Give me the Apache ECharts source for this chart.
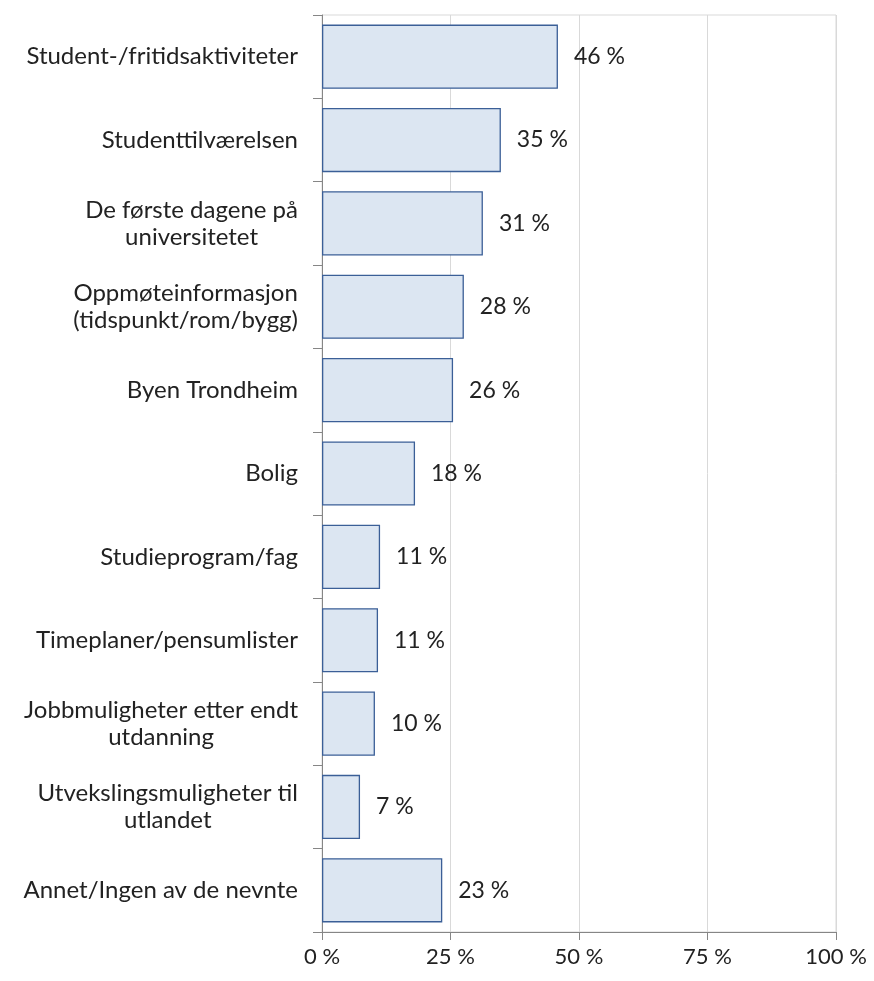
<!DOCTYPE html>
<html>
<head>
<meta charset="utf-8">
<script src="https://cdn.jsdelivr.net/npm/echarts@6/dist/echarts.min.js"></script>
<style>
  html, body { margin: 0; padding: 0; background: #fff; }
  #chart { width: 874px; height: 981px; }
</style>
</head>
<body>
<div id="chart"></div>
<script>
// kategorier (øverst først)
var categories = [
  'Student-/fritidsaktiviteter',
  'Studenttilværelsen',
  'De første dagene på\nuniversitetet',
  'Oppmøteinformasjon\n(tidspunkt/rom/bygg)',
  'Byen Trondheim',
  'Bolig',
  'Studieprogram/fag',
  'Timeplaner/pensumlister',
  'Jobbmuligheter etter endt\nutdanning',
  'Utvekslingsmuligheter til\nutlandet',
  'Annet/Ingen av de nevnte'
];
// andel i prosent
var values = [45.9, 34.8, 31.3, 27.6, 25.5, 18.1, 11.3, 10.9, 10.3, 7.4, 23.4];
var xTicks = [0, 25, 50, 75, 100];

var font = 'Lato';
var fs = 24;
var chart = echarts.init(document.getElementById('chart'));

chart.setOption({
  animation: false,
  grid: {
    left: 322, right: 38, top: 15, bottom: 49,
    show: true, borderColor: '#d9d9d9', borderWidth: 1
  },
  xAxis: {
    type: 'value',
    min: xTicks[0],
    max: xTicks[xTicks.length - 1],
    interval: 25,
    axisLine: { show: true, lineStyle: { color: '#868686', width: 1 } },
    axisTick: { show: true, length: 8, lineStyle: { color: '#868686' } },
    splitLine: { show: true, lineStyle: { color: '#d9d9d9' } },
    axisLabel: {
      fontFamily: font, fontSize: 22, color: '#222', margin: 14,
      formatter: function (v) { return v + ' %'; }
    }
  },
  yAxis: {
    type: 'category',
    inverse: true,
    data: categories,
    axisLine: { show: true, lineStyle: { color: '#868686', width: 1 } },
    axisTick: { show: true, length: 9, inside: false, lineStyle: { color: '#868686' } },
    axisLabel: {
      fontFamily: font, fontSize: fs, color: '#222', margin: 24, align: 'right',
      lineHeight: 27,
      formatter: function (v) {
        return v.split('\n').map(function (s) { return '{c|' + s + '}'; }).join('\n');
      },
      rich: {
        c: { align: 'center', fontFamily: font, fontSize: fs, color: '#222', lineHeight: 27 }
      }
    }
  },
  series: [{
    type: 'bar',
    data: values,
    barCategoryGap: '23%',
    itemStyle: { color: '#dce6f2', borderColor: '#3b5f97', borderWidth: 1.3 },
    label: {
      show: true, position: 'right', distance: 16,
      fontFamily: font, fontSize: 23, color: '#222',
      formatter: function (p) { return Math.round(p.value) + ' %'; }
    }
  }]
});
</script>
</body>
</html>
